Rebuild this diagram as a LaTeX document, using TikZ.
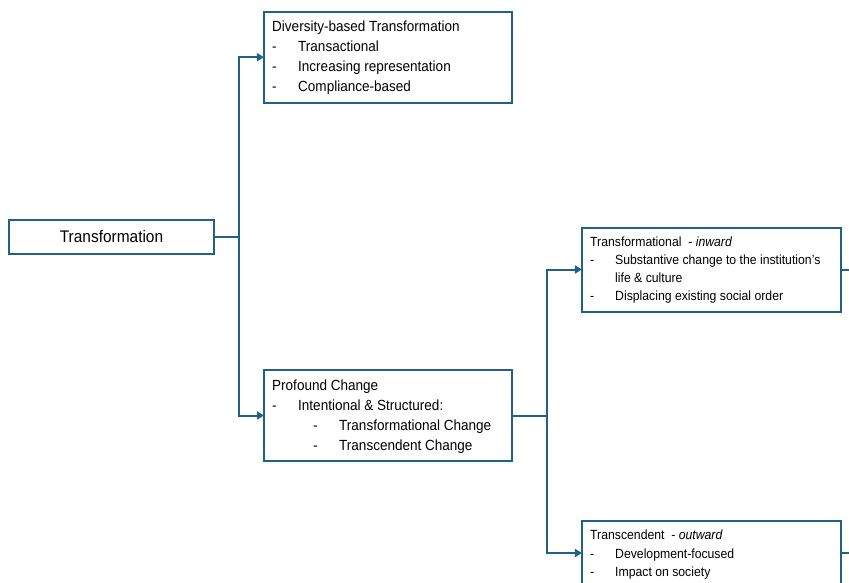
\documentclass[tikz,border=0pt]{standalone}
\usepackage{fontspec}
\setmainfont{Liberation Sans}[FakeStretch=0.92]
\usetikzlibrary{arrows.meta}
\definecolor{edge}{RGB}{32,98,133}
\begin{document}
\begin{tikzpicture}[x=1pt,y=-1pt,
  box/.style={draw=edge, line width=2pt, inner sep=0pt, outer sep=0pt},
  conn/.style={draw=edge, line width=2pt},
  arr/.style={conn, -{Triangle[length=7pt,width=8pt]}},
  lt/.style={anchor=base west, inner sep=0pt, font=\fontsize{14.7}{17}\selectfont},
  rt/.style={anchor=base west, inner sep=0pt, font=\fontsize{13.3}{15}\selectfont},
]
\clip (0,0) rectangle (849,583);
% boxes
\node[box, minimum width=205pt, minimum height=34pt, font=\fontsize{16.8}{19}\selectfont] (tr) at (111.5,236.5) {Transformation};
\node[box, minimum width=247.7pt, minimum height=91pt] (div) at (387.8,57.2) {};
\node[box, minimum width=248pt, minimum height=91pt] (pc) at (388,415.5) {};
\node[box, minimum width=258.7pt, minimum height=84pt] (tf) at (711.3,269.5) {};
\node[box, minimum width=258.7pt, minimum height=64pt] (ts) at (711.3,553) {};
% texts: diversity
\node[lt] (d0) at (272,31.5) {Diversity-based Transformation};
\node[lt] (d1a) at (272,51.5) {-};
\node[lt] (d1b) at (298,51.5) {Transactional};
\node[lt] (d2a) at (272,71.5) {-};
\node[lt] (d2b) at (298,71.5) {Increasing representation};
\node[lt] (d3a) at (272,91.5) {-};
\node[lt] (d3b) at (298,91.5) {Compliance-based};
% texts: profound
\node[lt] (p0) at (272,390.5) {Profound Change};
\node[lt] (p1a) at (272,410.5) {-};
\node[lt] (p1b) at (298,410.5) {Intentional \& Structured:};
\node[lt] (p2a) at (313,430.5) {-};
\node[lt] (p2b) at (339,430.5) {Transformational Change};
\node[lt] (p3a) at (313,450.5) {-};
\node[lt] (p3b) at (339,450.5) {Transcendent Change};
% texts: transformational
\node[rt] (f0) at (590,246.5) {Transformational \ - \textit{inward}};
\node[rt] (f1a) at (590,264.5) {-};
\node[rt] (f1b) at (615,264.5) {Substantive change to the institution’s};
\node[rt] (f1c) at (615,282.5) {life \& culture};
\node[rt] (f2a) at (590,300.5) {-};
\node[rt] (f2b) at (615,300.5) {Displacing existing social order};
% texts: transcendent
\node[rt] (s0) at (590,539.5) {Transcendent \ - \textit{outward}};
\node[rt] (s1a) at (590,558) {-};
\node[rt] (s1b) at (615,558) {Development-focused};
\node[rt] (s2a) at (590,576.5) {-};
\node[rt] (s2b) at (615,576.5) {Impact on society};
% connectors
\draw[conn] (tr.east) -- ++(25,0) coordinate (j1);
\draw[arr] (j1) |- (div.west);
\draw[arr] (j1) |- (pc.west);
\draw[conn] (pc.east) -- ++(35,0) coordinate (j2);
\draw[arr] (j2) |- (tf.west);
\draw[arr] (j2) |- (ts.west);
\coordinate (tfo) at (860,269.5);
\coordinate (tso) at (860,553);
\draw[conn] (tf.east) -- (tfo);
\draw[conn] (ts.east) -- (tso);
\end{tikzpicture}
\end{document}
